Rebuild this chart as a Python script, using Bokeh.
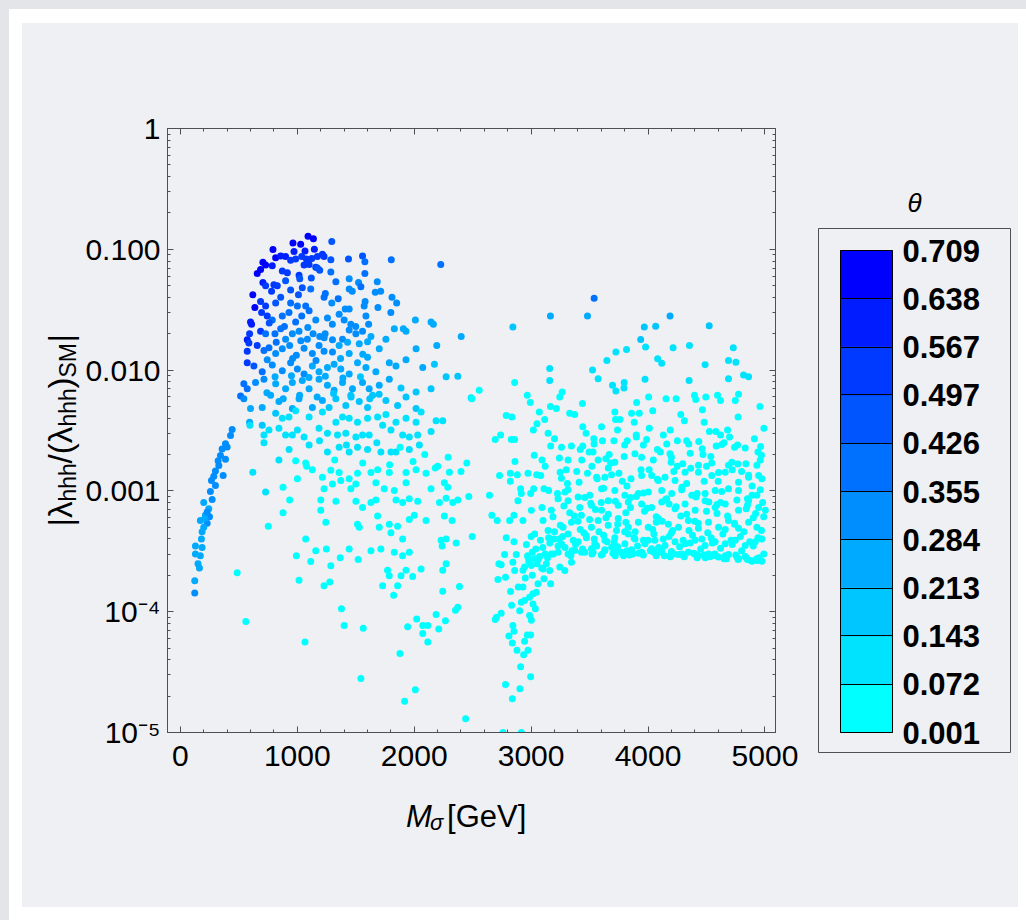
import math
from bokeh.plotting import figure
from bokeh.models import (ColumnDataSource, Range1d, FixedTicker, LinearAxis, LogAxis,
                          CustomJSTickFormatter, LinearColorMapper, ColorBar, Spacer)
from bokeh.core.properties import value
from bokeh.layouts import row, column
from bokeh.embed import file_html
from bokeh.resources import INLINE

# ---------------- data ----------------
# left arc  (M_sigma < 500 GeV)
arc_m = [443, 429, 386, 357, 343, 386, 329, 300, 366, 266, 300, 257, 272, 200, 243, 214, 171, 229,
         200, 186, 180, 129, 186, 129, 171, 151, 163, 123, 123, 229, 249, 209, 400, 323, 286]
arc_lam = [0.00323, 0.00288, 0.00246, 0.00222, 0.00196, 0.00183, 0.00162, 0.00146, 0.00134, 0.00122,
           0.00111, 0.00099, 0.00085, 0.00080, 0.00071, 0.00063, 0.00057, 0.00054, 0.00050, 0.00046,
           0.00040, 0.00035, 0.00034, 0.00030, 0.00029, 0.00025, 0.00023, 0.00018, 0.000143, 0.00067,
           0.00061, 0.00059, 0.00231, 0.00178, 0.00132]
arc_theta = [0.34, 0.33, 0.31, 0.30, 0.30, 0.31, 0.30, 0.30, 0.31, 0.29, 0.29, 0.29, 0.29, 0.28, 0.28,
             0.28, 0.28, 0.29, 0.28, 0.28, 0.27, 0.27, 0.28, 0.27, 0.28, 0.27, 0.28, 0.28, 0.29, 0.29,
             0.29, 0.28, 0.32, 0.30, 0.30]

# main left cluster (500 - 2500 GeV)
left_m = [
    1092, 1138, 963, 1029, 1295,
    792, 972, 1066, 1146, 1215,
    815, 858, 900, 943, 986, 1038, 1078, 1124, 1172, 1229, 1287, 1438, 1558, 1804,
    706, 729, 786, 1058, 1101, 1158, 1578, 2227,
    657, 686, 872, 915, 1015, 1021, 1172, 1192, 1287, 1578, 1444,
    706, 729, 800, 829, 943, 1043, 1115, 1330, 1444, 1524, 1544, 1684, 1667, 1713,
    620, 637, 686, 729, 815, 858, 943, 1001, 1072, 1229, 1295, 1410, 1444, 1572, 1810, 1850,
    600, 609, 695, 743, 786, 872, 929, 986, 1038, 1101, 1158, 1258, 1358, 1401, 1458, 1587, 1610, 2010, 2144, 2164,
    572, 592, 686, 729, 809, 858, 900, 958, 1015, 1086, 1135, 1192, 1238, 1301, 1387, 1444, 1501, 1558, 1601, 1758, 1830, 1907, 1930, 2402,
    572, 586, 657, 715, 758, 815, 872, 935, 992, 1058, 1129, 1186, 1229, 1301, 1358, 1444, 1530, 1601, 1701, 2016, 2193,
    572, 629, 700, 743, 786, 872, 943, 1001, 1058, 1129, 1186, 1258, 1315, 1372, 1444, 1515, 1587, 1672, 1787, 1844, 1930, 2073, 2173,
    543, 572, 643, 715, 815, 900, 958, 1043, 1101, 1186, 1258, 1315, 1387, 1472, 1558, 1615, 1701, 1787, 1887, 2016, 2144, 2273, 2373,
    515, 543, 600, 700, 772, 843, 958, 1015, 1129, 1215, 1272, 1330, 1415, 1458, 1530, 1601, 1644, 1758, 1858, 1930, 2016, 2487,
    592, 700, 815, 872, 929, 986, 1101, 1215, 1330, 1387, 1444, 1515, 1601, 1687, 1758, 1844, 1930, 2016, 2059, 2187, 2244,
    595, 715, 758, 843, 900, 958, 1001, 1058, 1186, 1258, 1344, 1415, 1501, 1558, 1615, 1730, 1801, 1901, 1958, 2030, 2144,
    715, 1101, 1258, 1358, 1444, 1515, 1601, 1715, 1801, 1844, 1958, 2044,
    620, 843, 986, 1072, 1129, 1215, 1287, 1358, 1444, 1515, 1630, 1687, 1787, 1930, 2016, 2101, 2201, 2301, 2450,
    729, 878, 1001, 1229, 1301, 1372, 1458, 1501, 1672, 1744, 1830, 1930, 2144, 2258, 2287,
    878, 935, 1201, 1330, 1501, 1558, 1630, 1672, 1844, 1901, 1958, 2030, 2216, 2273, 2330, 2373, 2467,
    752, 1201, 1244, 1515, 1687, 1787, 1858, 1958, 2001, 2101, 2258, 2324,
    1072, 1530, 1701, 1801, 1901, 2230, 2273, 2496,
    992, 1115, 1158, 1249, 1367, 1444, 1521, 1630, 1715, 1830, 1901, 1958, 2239, 2359,
    486, 1287, 1772, 1787, 1887, 1930, 1987, 2059, 2244, 2273,
    1015, 1229, 1278, 1730, 1824, 1858, 2244, 2387,
    1378, 1401, 1564, 560, 1944, 2021, 2073, 2116, 2187, 2267, 2353, 2373, 2210,
    1066, 2073, 2116, 1878, 1544, 2010, 1918, 2440,
    760, 820, 890, 960, 1030, 1090, 1160, 1230, 1300, 1370, 1430, 1500, 1560, 1630,
    740, 810, 880, 950, 1020, 1100, 1170, 1240, 1310, 1390, 1460, 1540, 1620, 1700,
    780, 900, 1010, 1120, 1240, 1350, 1470, 1580, 1690, 1800,
    930, 1080, 1190, 1320, 1420, 1560, 1680, 1790, 1880, 1990, 2090, 2180, 2290, 2400,
]
left_lam = [
    0.128, 0.122, 0.113, 0.110, 0.116,
    0.0995, 0.096, 0.097, 0.100, 0.091,
    0.085, 0.088, 0.087, 0.081, 0.083, 0.087, 0.083, 0.084, 0.087, 0.087, 0.082, 0.083, 0.088, 0.082,
    0.078, 0.074, 0.073, 0.074, 0.075, 0.071, 0.079, 0.075,
    0.063, 0.068, 0.066, 0.064, 0.061, 0.057, 0.070, 0.067, 0.065, 0.063, 0.057,
    0.053, 0.050, 0.051, 0.050, 0.046, 0.048, 0.047, 0.054, 0.047, 0.053, 0.049, 0.054, 0.044, 0.045,
    0.042, 0.033, 0.037, 0.034, 0.036, 0.040, 0.036, 0.034, 0.034, 0.040, 0.036, 0.032, 0.032, 0.034, 0.040, 0.036,
    0.025, 0.024, 0.030, 0.028, 0.026, 0.028, 0.030, 0.025, 0.028, 0.031, 0.026, 0.027, 0.029, 0.026, 0.024, 0.028, 0.024, 0.026, 0.025, 0.024,
    0.0178, 0.020, 0.021, 0.020, 0.020, 0.022, 0.018, 0.020, 0.021, 0.018, 0.020, 0.019, 0.020, 0.0178, 0.018, 0.0215, 0.020, 0.021, 0.0172, 0.018, 0.022, 0.022, 0.021, 0.019,
    0.0143, 0.0168, 0.0160, 0.0145, 0.0153, 0.0137, 0.0150, 0.0160, 0.0133, 0.0152, 0.0137, 0.0160, 0.0143, 0.0141, 0.0160, 0.0137, 0.0165, 0.0128, 0.0150, 0.0150, 0.0160,
    0.0115, 0.0108, 0.0097, 0.0122, 0.0110, 0.0099, 0.0115, 0.0102, 0.0093, 0.0108, 0.0097, 0.0105, 0.0112, 0.0102, 0.0093, 0.0115, 0.0105, 0.0097, 0.0115, 0.0108, 0.0122, 0.0105, 0.0112,
    0.0077, 0.0070, 0.0079, 0.0084, 0.0077, 0.0070, 0.0079, 0.0082, 0.0070, 0.0084, 0.0075, 0.0068, 0.0079, 0.0070, 0.0079, 0.0070, 0.0075, 0.0084, 0.0071, 0.0066, 0.0070, 0.0088, 0.0089,
    0.0061, 0.0058, 0.0048, 0.0049, 0.0062, 0.0055, 0.0048, 0.0058, 0.0049, 0.0056, 0.0049, 0.0058, 0.0051, 0.0062, 0.0055, 0.0049, 0.0062, 0.0056, 0.0051, 0.0060, 0.0048, 0.0059,
    0.0037, 0.0035, 0.0044, 0.0040, 0.0041, 0.0046, 0.0041, 0.0045, 0.0037, 0.0041, 0.0040, 0.0037, 0.0040, 0.0041, 0.0043, 0.0037, 0.0040, 0.0037, 0.0045, 0.0038, 0.0038,
    0.0035, 0.0029, 0.0032, 0.0033, 0.0029, 0.0029, 0.0032, 0.0028, 0.0033, 0.0030, 0.0029, 0.0030, 0.0028, 0.0029, 0.0029, 0.0035, 0.0032, 0.0029, 0.0028, 0.0029, 0.0031,
    0.0025, 0.0024, 0.0021, 0.0023, 0.0021, 0.0023, 0.0022, 0.0021, 0.0021, 0.0021, 0.0022, 0.0024,
    0.00143, 0.0018, 0.00178, 0.0017, 0.0015, 0.0013, 0.00148, 0.00142, 0.00126, 0.0014, 0.00142, 0.0015, 0.00142, 0.00142, 0.0015, 0.0014, 0.0016, 0.00143, 0.0017,
    0.00098, 0.00107, 0.00126, 0.00104, 0.00114, 0.00122, 0.00104, 0.00114, 0.00117, 0.00104, 0.00101, 0.00117, 0.00104, 0.00117, 0.00107,
    0.00066, 0.00084, 0.00084, 0.00082, 0.00082, 0.00073, 0.00080, 0.00084, 0.00084, 0.00080, 0.00086, 0.00082, 0.00080, 0.00087, 0.00080, 0.00084, 0.00090,
    0.00051, 0.00069, 0.00055, 0.00053, 0.00062, 0.00053, 0.00051, 0.00058, 0.00063, 0.00057, 0.00062, 0.00057,
    0.00040, 0.00050, 0.00050, 0.00045, 0.00040, 0.00039, 0.00040, 0.00042,
    0.00029, 0.00026, 0.00032, 0.00033, 0.00028, 0.00033, 0.00027, 0.00032, 0.00033, 0.00031, 0.00029, 0.00031, 0.00035, 0.00037,
    0.00021, 0.00024, 0.00022, 0.000198, 0.000198, 0.00022, 0.000196, 0.000226, 0.00022, 0.00025,
    0.000182, 0.000164, 0.000176, 0.000164, 0.000137, 0.000164, 0.000148, 0.000162,
    0.000106, 0.000077, 0.000073, 0.000083, 0.000075, 0.000087, 0.000077, 0.000077, 0.000095, 0.000084, 0.000103, 0.000109, 0.000072,
    0.000056, 0.000066, 0.000056, 0.000045, 0.000028, 0.0000226, 0.0000181, 0.000013,
    0.0245, 0.0170, 0.0230, 0.0125, 0.0175, 0.0225, 0.0120, 0.0185, 0.0240, 0.0125, 0.0170, 0.0230, 0.0135, 0.0190,
    0.0065, 0.0088, 0.0058, 0.0090, 0.0062, 0.0087, 0.0060, 0.0089, 0.0064, 0.0086, 0.0060, 0.0088, 0.0058, 0.0063,
    0.045, 0.055, 0.042, 0.058, 0.043, 0.039, 0.045, 0.037, 0.033, 0.030,
    0.0022, 0.0016, 0.0026, 0.0018, 0.0024, 0.0017, 0.0025, 0.00165, 0.0023, 0.00175, 0.0020, 0.00155, 0.0019, 0.00145,
]
left_theta = [
    0.68, 0.70, 0.66, 0.64, 0.45,
    0.66, 0.62, 0.62, 0.60, 0.55,
    0.64, 0.62, 0.58, 0.56, 0.56, 0.55, 0.54, 0.52, 0.52, 0.50, 0.45, 0.44, 0.44, 0.42,
    0.70, 0.68, 0.62, 0.52, 0.50, 0.50, 0.42, 0.40,
    0.70, 0.68, 0.55, 0.52, 0.50, 0.48, 0.48, 0.47, 0.42, 0.40, 0.32,
    0.58, 0.56, 0.52, 0.50, 0.45, 0.44, 0.42, 0.40, 0.33, 0.33, 0.36, 0.32, 0.30, 0.30,
    0.68, 0.64, 0.55, 0.52, 0.45, 0.44, 0.42, 0.40, 0.40, 0.38, 0.34, 0.32, 0.32, 0.31, 0.30, 0.30,
    0.62, 0.60, 0.52, 0.50, 0.42, 0.40, 0.40, 0.38, 0.38, 0.38, 0.34, 0.33, 0.32, 0.31, 0.30, 0.30, 0.29, 0.24, 0.24, 0.24,
    0.60, 0.55, 0.50, 0.42, 0.40, 0.38, 0.34, 0.33, 0.33, 0.32, 0.32, 0.31, 0.31, 0.30, 0.30, 0.30, 0.29, 0.29, 0.28, 0.25, 0.25, 0.24, 0.24, 0.22,
    0.56, 0.55, 0.50, 0.42, 0.40, 0.34, 0.33, 0.32, 0.31, 0.31, 0.30, 0.30, 0.29, 0.29, 0.28, 0.27, 0.27, 0.26, 0.25, 0.23, 0.22,
    0.52, 0.44, 0.36, 0.35, 0.33, 0.31, 0.30, 0.30, 0.29, 0.28, 0.27, 0.27, 0.26, 0.26, 0.25, 0.25, 0.24, 0.24, 0.23, 0.23, 0.22, 0.22, 0.21,
    0.42, 0.40, 0.34, 0.32, 0.28, 0.27, 0.27, 0.26, 0.26, 0.25, 0.25, 0.24, 0.24, 0.23, 0.23, 0.23, 0.22, 0.22, 0.21, 0.21, 0.20, 0.20, 0.20,
    0.40, 0.35, 0.28, 0.26, 0.25, 0.24, 0.23, 0.23, 0.22, 0.22, 0.21, 0.21, 0.20, 0.20, 0.20, 0.19, 0.19, 0.18, 0.18, 0.17, 0.17, 0.12,
    0.22, 0.15, 0.15, 0.14, 0.14, 0.14, 0.13, 0.13, 0.12, 0.12, 0.12, 0.11, 0.11, 0.11, 0.11, 0.10, 0.10, 0.10, 0.10, 0.10, 0.10,
    0.14, 0.13, 0.13, 0.13, 0.12, 0.12, 0.12, 0.12, 0.11, 0.11, 0.11, 0.11, 0.10, 0.10, 0.10, 0.10, 0.10, 0.09, 0.09, 0.09, 0.09,
    0.11, 0.10, 0.10, 0.10, 0.09, 0.09, 0.09, 0.09, 0.08, 0.08, 0.08, 0.08,
    0.10, 0.09, 0.07, 0.07, 0.06, 0.06, 0.06, 0.06, 0.05, 0.05, 0.05, 0.05, 0.05, 0.05, 0.05, 0.05, 0.05, 0.05, 0.05,
    0.08, 0.06, 0.06, 0.05, 0.05, 0.05, 0.04, 0.04, 0.04, 0.04, 0.04, 0.04, 0.04, 0.04, 0.04,
    0.05, 0.05, 0.04, 0.04, 0.04, 0.04, 0.04, 0.04, 0.03, 0.03, 0.03, 0.03, 0.03, 0.03, 0.03, 0.03, 0.03,
    0.05, 0.04, 0.04, 0.03, 0.03, 0.03, 0.03, 0.03, 0.03, 0.03, 0.03, 0.03,
    0.04, 0.03, 0.03, 0.03, 0.03, 0.03, 0.03, 0.03,
    0.04, 0.04, 0.04, 0.03, 0.03, 0.03, 0.03, 0.03, 0.03, 0.03, 0.03, 0.03, 0.02, 0.02,
    0.05, 0.03, 0.03, 0.03, 0.03, 0.03, 0.03, 0.03, 0.02, 0.02,
    0.04, 0.03, 0.03, 0.03, 0.03, 0.03, 0.02, 0.02,
    0.03, 0.03, 0.03, 0.05, 0.03, 0.03, 0.03, 0.02, 0.02, 0.02, 0.02, 0.02, 0.02,
    0.04, 0.03, 0.03, 0.03, 0.03, 0.03, 0.03, 0.03,
    0.45, 0.36, 0.38, 0.31, 0.33, 0.34, 0.29, 0.30, 0.31, 0.27, 0.28, 0.29, 0.26, 0.27,
    0.26, 0.27, 0.24, 0.25, 0.23, 0.24, 0.22, 0.23, 0.21, 0.22, 0.20, 0.21, 0.19, 0.19,
    0.52, 0.48, 0.45, 0.45, 0.40, 0.37, 0.35, 0.33, 0.31, 0.30,
    0.09, 0.07, 0.09, 0.07, 0.08, 0.06, 0.08, 0.06, 0.07, 0.06, 0.06, 0.05, 0.05, 0.05,
]

# right cluster (2500 - 5000 GeV)
right_m = [
    3539, 3165, 3482, 4188, 2844, 3968, 4065, 4523, 3937, 3979, 4214, 4354, 4729, 3816, 3725, 3648, 4082, 4117, 4488, 4688, 4751, 3159, 3525, 2859, 3159, 3573, 3974, 4351, 4688, 4817, 4860, 2556, 2493,
    2967, 2993, 3245, 3265, 3439, 3696, 3725, 3794, 3796, 3902, 4005, 4154, 4240, 4397, 4408, 4494, 4594, 4620, 4746, 4774, 4957, 3165, 3216,
    2787, 2836, 3070, 3116, 3373, 3716, 3722, 3859, 3882, 3925, 3602, 3442, 4280, 4311, 4465, 3019, 3145, 3739, 3899, 4011, 4525, 4580, 4680, 4991,
    2693, 2739, 2830, 2859, 3167, 3345, 3442, 3536, 3539, 3708, 3822, 3988, 4131, 4160, 4251, 4348, 4434, 4463, 4583, 4631, 4697, 4766, 4831, 4963, 2862, 3027, 3093,
    3242, 3316, 3433, 3496, 3573, 3639, 3668, 3716, 3796, 3888, 3945, 4045, 4105, 4188, 4197, 4297, 4365, 4431, 4537, 4545, 4603, 4688, 4717, 4768, 4837, 4931, 4969,
    2730, 2822, 2822, 2882, 2973, 3047, 3082, 3248, 3259, 3410, 3482, 3565, 3631, 3688, 3751, 3854, 3945, 4031, 4088, 4145, 4231, 4317, 4431, 4545, 4660, 4774, 4860, 4946, 4974,
    2644, 2910, 2916, 2996, 3022, 3110, 3150, 3225, 3316, 3402, 3502, 3602, 3716, 3802, 3917, 4002, 4117, 4202, 4288, 4374, 4488, 4574, 4688, 4774, 4889, 4931,
    2887, 3002, 3093, 3173, 3230, 3316, 3416, 3516, 3602, 3659, 3745, 3831, 3945, 4031, 4117, 4231, 4317, 4403, 4488, 4574, 4660, 4774, 4860, 4946, 5003,
    2664, 2710, 2816, 2853, 2930, 3102, 3187, 3273, 3345, 3430, 3516, 3573, 3659, 3745, 3831, 3917, 4002, 4088, 4174, 4260, 4345, 4431, 4517, 4603, 4688, 4774, 4860, 4931, 4989,
    2787, 2853, 3030, 3145, 3196, 3259, 3316, 3402, 3473, 3545, 3631, 3716, 3802, 3888, 3974, 4059, 4145, 4231, 4317, 4403, 4488, 4574, 4660, 4746, 4831, 4917, 4974,
    2773, 2873, 2973, 3073, 3173, 3230, 3316, 3373, 3459, 3516, 3631, 3688, 3774, 3859, 3945, 4031, 4117, 4202, 4260, 4345, 4431, 4517, 4603, 4688, 4774, 4831, 4889, 4931, 4974,
    2724, 2744, 2844, 2859, 2944, 3002, 3030, 3102, 3130, 3159, 3245, 3288, 3345,
    2716, 2781, 2824, 2930, 3016, 3059, 3110, 3167, 2987, 3045,
    2693, 2744, 2704, 2833, 2902, 2916, 2944, 3016, 3036, 2987, 3002, 2810, 2844, 2853,
    2839, 2944, 2967, 2996, 2879, 2936, 2973, 2910, 2996, 2781, 2904, 2839, 2759, 2916,
    3290, 3340, 3380, 3430, 3470, 3520, 3560, 3600, 3650, 3700, 3740, 3790, 3830, 3870, 3910, 3960, 4000, 4050, 4090, 4140, 4180, 4220, 4270, 4310, 4360, 4400, 4450, 4490, 4540, 4580, 4620, 4670, 4720, 4760, 4800, 4850, 4900, 4950, 4990,
    3250, 3330, 3420, 3500, 3580, 3660, 3730, 3810, 3890, 3970, 4040, 4120, 4200, 4280, 4350, 4430, 4510, 4590, 4660, 4740, 4820, 4900, 4970,
    2960, 3000, 3040, 3080, 3120, 3160, 3200, 3230, 2980, 3060, 3140, 3010, 3090, 2950,
    3300, 3520, 3780, 4010, 4250, 4480, 4720, 4890, 3600, 3850, 4150, 4420, 4620, 4850,
    3270, 3360, 3450, 3540, 3620, 3710, 3800, 3880, 3960, 4050, 4130, 4210, 4300, 4380, 4460, 4550, 4640, 4710, 4790, 4870, 4940,
    3280, 3370, 3460, 3550, 3640, 3720, 3810, 3900, 3990, 4070, 4160, 4240, 4330, 4410, 4500, 4590, 4680, 4760, 4840, 4920, 4980,
    3310, 3420, 3560, 3680, 3820, 3960, 4080, 4200, 4330, 4470, 4600, 4740, 4860, 4960,
    3610, 3720, 3840, 3950, 4070, 4190, 4300, 4420, 4530, 4650, 4770, 4880,
    2890, 2930, 2970, 3010, 3050, 3100, 3150, 3190, 3240,
    3050, 3200, 3330, 3470, 3610, 3760, 3900, 4040, 4190, 4330, 4480, 4620, 4770, 4910,
    3120, 3260, 3390, 3530, 3660, 3800, 3940, 4080, 4220, 4360, 4500, 4650, 4800, 4940,
    3350, 3440, 3530, 3630, 3730, 3820, 3920, 4020, 4110, 4200, 4290, 4390, 4480, 4570, 4660, 4750, 4840, 4930,
    3290, 3400, 3510, 3620, 3740, 3850, 3960, 4070, 4180, 4290, 4400, 4520, 4630, 4740, 4850, 4960,
]
right_lam = [
    0.0394, 0.028, 0.028, 0.028, 0.0227, 0.0227, 0.0231, 0.0233, 0.0179, 0.0155, 0.0153, 0.0160, 0.0153, 0.0148, 0.0141, 0.0120, 0.0124, 0.0114, 0.0111, 0.0120, 0.0116, 0.0103, 0.0100, 0.0079, 0.0082, 0.0085, 0.0084, 0.0082, 0.0085, 0.0091, 0.0088, 0.0068, 0.0058,
    0.0062, 0.0054, 0.0060, 0.0066, 0.0053, 0.0075, 0.0067, 0.0071, 0.0079, 0.0054, 0.0060, 0.0058, 0.0058, 0.0062, 0.0057, 0.0060, 0.0062, 0.0056, 0.0056, 0.0063, 0.0050, 0.0050, 0.0048,
    0.0042, 0.0041, 0.0045, 0.0039, 0.0043, 0.0045, 0.0039, 0.0044, 0.0037, 0.0044, 0.0034, 0.0034, 0.0043, 0.0038, 0.0047, 0.0032, 0.0030, 0.0032, 0.0029, 0.0033, 0.0031, 0.0031, 0.0032, 0.0033,
    0.00267, 0.0029, 0.00267, 0.00267, 0.00235, 0.00235, 0.00235, 0.0027, 0.00244, 0.0026, 0.0026, 0.00267, 0.0029, 0.00244, 0.0026, 0.00244, 0.00256, 0.00223, 0.00235, 0.00242, 0.0028, 0.0024, 0.00226, 0.00233, 0.00175, 0.00197, 0.0018,
    0.00187, 0.0018, 0.0018, 0.0021, 0.0018, 0.00185, 0.0020, 0.00173, 0.00193, 0.00203, 0.0019, 0.0018, 0.0021, 0.00203, 0.00173, 0.00168, 0.00154, 0.00163, 0.00193, 0.0017, 0.00142, 0.00163, 0.00173, 0.00167, 0.00168, 0.00163, 0.00197,
    0.00134, 0.0014, 0.0012, 0.00136, 0.0014, 0.00136, 0.00134, 0.00143, 0.00127, 0.00118, 0.0014, 0.00126, 0.0013, 0.00136, 0.0014, 0.00126, 0.00134, 0.00134, 0.00122, 0.0013, 0.00122, 0.00143, 0.00143, 0.00134, 0.00143, 0.00118, 0.0013, 0.00134, 0.00126,
    0.00092, 0.00104, 0.00095, 0.00095, 0.00104, 0.00104, 0.00101, 0.00095, 0.00102, 0.00089, 0.00092, 0.00104, 0.00101, 0.00092, 0.00095, 0.00098, 0.00101, 0.00095, 0.00102, 0.00092, 0.00095, 0.00101, 0.00104, 0.00101, 0.00092, 0.00092,
    0.00083, 0.00069, 0.00073, 0.00069, 0.00086, 0.00083, 0.00073, 0.00076, 0.00069, 0.00083, 0.00076, 0.00081, 0.00078, 0.00073, 0.00081, 0.00071, 0.00078, 0.00069, 0.00083, 0.00073, 0.00078, 0.00069, 0.00083, 0.00073, 0.00069,
    0.00063, 0.00057, 0.00057, 0.00063, 0.00057, 0.00057, 0.00061, 0.00050, 0.00055, 0.00063, 0.00050, 0.00057, 0.00052, 0.00059, 0.00050, 0.00055, 0.00050, 0.00059, 0.00053, 0.00050, 0.00057, 0.00049, 0.00055, 0.00050, 0.00057, 0.00049, 0.00055, 0.00050, 0.00061,
    0.00041, 0.00038, 0.00044, 0.00047, 0.00040, 0.000365, 0.00044, 0.00038, 0.00041, 0.000365, 0.00039, 0.00041, 0.000365, 0.00040, 0.000365, 0.00039, 0.000353, 0.00038, 0.000365, 0.00039, 0.000353, 0.00038, 0.000365, 0.00039, 0.000353, 0.00038, 0.00040,
    0.000297, 0.000297, 0.000283, 0.000286, 0.000301, 0.000311, 0.000301, 0.000321, 0.000311, 0.000332, 0.000321, 0.000342, 0.000311, 0.000325, 0.000311, 0.000332, 0.000317, 0.000305, 0.000297, 0.000311, 0.000292, 0.000301, 0.000283, 0.000297, 0.000274, 0.000286, 0.000262, 0.000265, 0.000262,
    0.000249, 0.000245, 0.000257, 0.000219, 0.000234, 0.000241, 0.000274, 0.000226, 0.000249, 0.000219, 0.000234, 0.000219, 0.000257,
    0.000185, 0.000193, 0.000147, 0.000160, 0.000141, 0.000170, 0.000187, 0.000170, 0.000132, 0.000145,
    8.6e-5, 9.7e-5, 9.0e-5, 1.13e-4, 1.02e-4, 1.20e-4, 1.24e-4, 1.16e-4, 1.06e-4, 9.3e-5, 8.5e-5, 6.3e-5, 7.7e-5, 6.9e-5,
    5.5e-5, 5.7e-5, 6.4e-5, 6.4e-5, 4.8e-5, 4.4e-5, 4.8e-5, 3.5e-5, 2.9e-5, 2.5e-5, 2.3e-5, 1.9e-5, 1.0e-5, 1.0e-5,
    3.4e-4, 2.9e-4, 3.6e-4, 3.1e-4, 4.3e-4, 3.0e-4, 3.5e-4, 2.95e-4, 3.8e-4, 3.05e-4, 3.45e-4, 2.9e-4, 4.4e-4, 3.0e-4, 3.5e-4, 2.95e-4, 3.9e-4, 3.1e-4, 3.4e-4, 2.9e-4, 4.2e-4, 3.0e-4, 3.45e-4, 2.85e-4, 3.7e-4, 3.0e-4, 3.3e-4, 2.8e-4, 4.1e-4, 2.9e-4, 3.35e-4, 2.75e-4, 3.6e-4, 2.85e-4, 3.2e-4, 2.7e-4, 3.5e-4, 2.8e-4, 3.0e-4,
    5.2e-4, 6.6e-4, 4.8e-4, 5.8e-4, 4.6e-4, 6.4e-4, 4.7e-4, 5.5e-4, 4.6e-4, 6.8e-4, 4.8e-4, 5.6e-4, 4.5e-4, 6.2e-4, 4.7e-4, 5.4e-4, 4.5e-4, 6.5e-4, 4.8e-4, 5.3e-4, 4.6e-4, 6.0e-4, 4.7e-4,
    3.6e-4, 4.2e-4, 3.3e-4, 3.9e-4, 3.0e-4, 3.7e-4, 4.6e-4, 3.5e-4, 2.6e-4, 2.7e-4, 2.8e-4, 2.0e-4, 2.3e-4, 1.9e-4,
    1.5e-3, 1.6e-3, 1.2e-3, 1.5e-3, 1.6e-3, 1.2e-3, 1.5e-3, 1.1e-3, 8.0e-4, 8.8e-4, 8.5e-4, 9.5e-4, 8.0e-4, 8.6e-4,
    4.2e-4, 3.9e-4, 4.5e-4, 4.0e-4, 4.3e-4, 3.8e-4, 4.6e-4, 4.1e-4, 3.9e-4, 4.4e-4, 4.0e-4, 4.7e-4, 3.9e-4, 4.3e-4, 4.0e-4, 3.7e-4, 4.4e-4, 3.9e-4, 4.2e-4, 3.8e-4, 4.1e-4,
    7.5e-4, 6.2e-4, 8.8e-4, 7.0e-4, 6.0e-4, 8.2e-4, 6.6e-4, 9.0e-4, 7.2e-4, 6.1e-4, 8.6e-4, 7.4e-4, 6.4e-4, 8.9e-4, 6.8e-4, 7.7e-4, 6.2e-4, 8.4e-4, 7.1e-4, 6.5e-4, 8.0e-4,
    1.15e-3, 2.2e-3, 1.3e-3, 1.7e-3, 1.1e-3, 2.4e-3, 1.25e-3, 1.9e-3, 1.15e-3, 2.0e-3, 1.2e-3, 2.3e-3, 1.35e-3, 1.8e-3,
    3.0e-4, 2.9e-4, 2.95e-4, 3.05e-4, 2.9e-4, 2.85e-4, 2.95e-4, 2.8e-4, 2.85e-4, 2.75e-4, 2.7e-4, 2.65e-4,
    1.6e-4, 2.2e-4, 2.9e-4, 3.1e-4, 2.5e-4, 3.4e-4, 4.1e-4, 3.0e-4, 4.0e-4,
    3.6e-3, 2.7e-3, 4.4e-3, 3.0e-3, 2.6e-3, 3.9e-3, 2.8e-3, 4.6e-3, 3.2e-3, 2.6e-3, 3.7e-3, 2.9e-3, 4.1e-3, 2.7e-3,
    1.6e-3, 2.3e-3, 1.45e-3, 2.1e-3, 1.55e-3, 2.4e-3, 1.5e-3, 2.2e-3, 1.45e-3, 2.05e-3, 1.6e-3, 2.5e-3, 1.45e-3, 2.1e-3,
    3.2e-4, 3.3e-4, 3.1e-4, 3.25e-4, 3.15e-4, 3.2e-4, 3.05e-4, 3.2e-4, 3.1e-4, 3.15e-4, 3.0e-4, 3.05e-4, 2.95e-4, 3.0e-4, 2.9e-4, 2.95e-4, 2.8e-4, 2.75e-4,
    9.8e-4, 5.6e-4, 7.9e-4, 1.05e-3, 5.3e-4, 7.3e-4, 9.6e-4, 5.5e-4, 7.8e-4, 1.07e-3, 5.6e-4, 8.1e-4, 9.9e-4, 5.4e-4, 7.6e-4, 1.02e-3,
]
right_theta = [
    0.38, 0.22, 0.22, 0.24, 0.20, 0.20, 0.20, 0.20, 0.15, 0.14, 0.14, 0.14, 0.14, 0.13, 0.13, 0.12, 0.12, 0.12, 0.12, 0.12, 0.12, 0.11, 0.11, 0.07, 0.09, 0.09, 0.09, 0.09, 0.09, 0.09, 0.09, 0.07, 0.07,
    0.07, 0.07, 0.07, 0.07, 0.07, 0.08, 0.08, 0.08, 0.08, 0.07, 0.07, 0.07, 0.07, 0.07, 0.07, 0.07, 0.07, 0.07, 0.07, 0.07, 0.06, 0.06, 0.06,
    0.05, 0.05, 0.05, 0.05, 0.05, 0.05, 0.05, 0.05, 0.05, 0.05, 0.05, 0.05, 0.05, 0.05, 0.05, 0.05, 0.05, 0.05, 0.05, 0.05, 0.05, 0.05, 0.05, 0.05,
    0.05, 0.05, 0.05, 0.05, 0.05, 0.05, 0.05, 0.05, 0.05, 0.05, 0.05, 0.05, 0.05, 0.05, 0.05, 0.05, 0.05, 0.04, 0.04, 0.04, 0.05, 0.04, 0.04, 0.04, 0.04, 0.04, 0.04,
    0.04, 0.04, 0.04, 0.04, 0.04, 0.04, 0.04, 0.04, 0.04, 0.04, 0.04, 0.04, 0.04, 0.04, 0.04, 0.04, 0.04, 0.04, 0.04, 0.04, 0.04, 0.04, 0.04, 0.04, 0.04, 0.04, 0.04,
    0.04, 0.04, 0.04, 0.04, 0.04, 0.04, 0.04, 0.04, 0.04, 0.04, 0.04, 0.04, 0.04, 0.04, 0.04, 0.04, 0.04, 0.04, 0.04, 0.04, 0.04, 0.04, 0.04, 0.04, 0.04, 0.04, 0.04, 0.04, 0.04,
    0.04, 0.04, 0.04, 0.04, 0.04, 0.04, 0.04, 0.04, 0.04, 0.03, 0.03, 0.03, 0.03, 0.03, 0.03, 0.03, 0.03, 0.03, 0.03, 0.03, 0.03, 0.03, 0.03, 0.03, 0.03, 0.03,
    0.04, 0.04, 0.04, 0.04, 0.03, 0.03, 0.03, 0.03, 0.03, 0.03, 0.03, 0.03, 0.03, 0.03, 0.03, 0.03, 0.03, 0.03, 0.03, 0.03, 0.03, 0.03, 0.03, 0.03, 0.03,
    0.04, 0.04, 0.04, 0.04, 0.04, 0.03, 0.03, 0.03, 0.03, 0.03, 0.03, 0.03, 0.03, 0.03, 0.03, 0.03, 0.03, 0.03, 0.03, 0.03, 0.03, 0.03, 0.03, 0.03, 0.03, 0.03, 0.03, 0.03, 0.03,
    0.04, 0.04, 0.03, 0.03, 0.03, 0.03, 0.03, 0.03, 0.03, 0.03, 0.03, 0.03, 0.03, 0.03, 0.03, 0.03, 0.03, 0.03, 0.03, 0.03, 0.03, 0.03, 0.03, 0.03, 0.03, 0.03, 0.03,
    0.04, 0.04, 0.04, 0.03, 0.03, 0.03, 0.03, 0.03, 0.03, 0.03, 0.03, 0.03, 0.03, 0.03, 0.03, 0.03, 0.03, 0.03, 0.03, 0.03, 0.03, 0.03, 0.03, 0.03, 0.03, 0.03, 0.03, 0.03, 0.03,
    0.04, 0.04, 0.04, 0.04, 0.04, 0.04, 0.04, 0.04, 0.04, 0.04, 0.03, 0.03, 0.03,
    0.04, 0.04, 0.04, 0.04, 0.04, 0.04, 0.04, 0.04, 0.04, 0.04,
    0.04, 0.04, 0.04, 0.04, 0.04, 0.04, 0.04, 0.04, 0.04, 0.04, 0.04, 0.04, 0.04, 0.04,
    0.04, 0.04, 0.04, 0.04, 0.04, 0.04, 0.04, 0.04, 0.04, 0.04, 0.04, 0.04, 0.04, 0.04,
    0.03, 0.03, 0.03, 0.03, 0.03, 0.03, 0.03, 0.03, 0.03, 0.03, 0.03, 0.03, 0.03, 0.03, 0.03, 0.03, 0.03, 0.03, 0.03, 0.03, 0.03, 0.03, 0.03, 0.03, 0.03, 0.03, 0.03, 0.03, 0.03, 0.03, 0.03, 0.03, 0.03, 0.03, 0.03, 0.03, 0.03, 0.03, 0.03,
    0.03, 0.03, 0.03, 0.03, 0.03, 0.03, 0.03, 0.03, 0.03, 0.03, 0.03, 0.03, 0.03, 0.03, 0.03, 0.03, 0.03, 0.03, 0.03, 0.03, 0.03, 0.03, 0.03,
    0.04, 0.04, 0.04, 0.04, 0.04, 0.04, 0.04, 0.04, 0.04, 0.04, 0.04, 0.04, 0.04, 0.04,
    0.04, 0.04, 0.04, 0.04, 0.04, 0.04, 0.04, 0.04, 0.04, 0.04, 0.04, 0.04, 0.04, 0.04,
    0.03, 0.03, 0.03, 0.03, 0.03, 0.03, 0.03, 0.03, 0.03, 0.03, 0.03, 0.03, 0.03, 0.03, 0.03, 0.03, 0.03, 0.03, 0.03, 0.03, 0.03,
    0.03, 0.03, 0.03, 0.03, 0.03, 0.03, 0.03, 0.03, 0.03, 0.03, 0.03, 0.03, 0.03, 0.03, 0.03, 0.03, 0.03, 0.03, 0.03, 0.03, 0.03,
    0.04, 0.04, 0.04, 0.04, 0.04, 0.04, 0.04, 0.04, 0.04, 0.04, 0.04, 0.04, 0.04, 0.04,
    0.03, 0.03, 0.03, 0.03, 0.03, 0.03, 0.03, 0.03, 0.03, 0.03, 0.03, 0.03,
    0.04, 0.04, 0.04, 0.04, 0.04, 0.04, 0.04, 0.04, 0.04,
    0.05, 0.05, 0.05, 0.05, 0.05, 0.05, 0.05, 0.05, 0.05, 0.05, 0.05, 0.05, 0.05, 0.05,
    0.04, 0.04, 0.04, 0.04, 0.04, 0.04, 0.04, 0.04, 0.04, 0.04, 0.04, 0.04, 0.04, 0.04,
    0.03, 0.03, 0.03, 0.03, 0.03, 0.03, 0.03, 0.03, 0.03, 0.03, 0.03, 0.03, 0.03, 0.03, 0.03, 0.03, 0.03, 0.03,
    0.03, 0.03, 0.03, 0.03, 0.03, 0.03, 0.03, 0.03, 0.03, 0.03, 0.03, 0.03, 0.03, 0.03, 0.03, 0.03,
]

# axes / legend texts
x_tick_values = [0, 1000, 2000, 3000, 4000, 5000]
x_tick_labels = ["0", "1000", "2000", "3000", "4000", "5000"]
y_tick_values = [1e-5, 1e-4, 1e-3, 1e-2, 1e-1, 1.0]
y_tick_labels = ["10\u207b\u2075", "10\u207b\u2074", "0.001", "0.010", "0.100", "1"]
x_title_parts = ["M", "\u03c3", "[GeV]"]
y_title_parts = ["|\u03bb", "hhh", "/(\u03bb", "hhh", ")", "SM", "|"]
theta_title = "\u03b8"
theta_ticks = [0.001, 0.072, 0.143, 0.213, 0.284, 0.355, 0.426, 0.497, 0.567, 0.638, 0.709]
theta_labels = ["0.001", "0.072", "0.143", "0.213", "0.284", "0.355", "0.426", "0.497", "0.567", "0.638", "0.709"]
theta_palette = ["#00ffff", "#00e3ff", "#00c6ff", "#00aaff", "#008eff",
                 "#0071ff", "#0055ff", "#0039ff", "#001cff", "#0000ff"]

# ---------------- build ----------------
for a, b, c in ((arc_m, arc_lam, arc_theta), (left_m, left_lam, left_theta), (right_m, right_lam, right_theta)):
    assert len(a) == len(b) == len(c), (len(a), len(b), len(c))

src = ColumnDataSource(dict(m=arc_m + left_m + right_m,
                            lam=arc_lam + left_lam + right_lam,
                            theta=arc_theta + left_theta + right_theta))

PANEL = "#eef0f4"
OUTER = "#e4e5e8"
FRAME = "#505050"
FONT = "Liberation Sans"

mapper = LinearColorMapper(palette=theta_palette, low=theta_ticks[0], high=theta_ticks[-1])

p = figure(width=728, height=767, x_range=Range1d(-110, 5090), y_range=Range1d(1e-5, 1),
           y_axis_type="log", output_backend="svg", toolbar_location=None,
           min_border_left=85, min_border_right=35, min_border_top=105, min_border_bottom=58,
           background_fill_color=PANEL, border_fill_color=PANEL,
           outline_line_color=FRAME, outline_line_width=1)
p.grid.visible = False

x_minor = [v for v in range(0, 5001, 200)]
y_minor = [k * d for d in (1e-5, 1e-4, 1e-3, 1e-2, 1e-1) for k in range(2, 10)]


def style_axis(ax, labels=True):
    ax.axis_line_color = FRAME
    ax.major_tick_line_color = FRAME
    ax.minor_tick_line_color = FRAME
    ax.major_tick_in = 6
    ax.major_tick_out = 0
    ax.minor_tick_in = 3
    ax.minor_tick_out = 0
    ax.major_label_text_font = FONT
    ax.major_label_text_font_size = "30px"
    ax.major_label_text_color = "black"
    if not labels:
        ax.formatter = CustomJSTickFormatter(code="return ''")
        ax.major_label_standoff = 0


xb = p.xaxis[0]
xb.ticker = FixedTicker(ticks=x_tick_values, minor_ticks=x_minor)
xb.major_label_overrides = dict(zip(x_tick_values, x_tick_labels))
style_axis(xb)
xb.major_label_standoff = 13

yl = p.yaxis[0]
yl.ticker = FixedTicker(ticks=y_tick_values, minor_ticks=y_minor)
yl.major_label_overrides = dict(zip(y_tick_values, y_tick_labels))
style_axis(yl)
yl.major_label_standoff = 7

xt = LinearAxis(ticker=FixedTicker(ticks=x_tick_values, minor_ticks=x_minor))
style_axis(xt, labels=False)
p.add_layout(xt, "above")
yr = LogAxis(ticker=FixedTicker(ticks=y_tick_values, minor_ticks=y_minor))
style_axis(yr, labels=False)
p.add_layout(yr, "right")

p.scatter("m", "lam", source=src, size=7, marker="circle",
          fill_color={"field": "theta", "transform": mapper}, line_color=None)

# x-axis title strip  (M_sigma [GeV]) – same horizontal scale as the plot
pl = figure(width=728, height=117, x_range=p.x_range, y_range=Range1d(0, 117),
            x_axis_type=None, y_axis_type=None, output_backend="svg", toolbar_location=None,
            min_border_left=85, min_border_right=35, min_border_top=0, min_border_bottom=0,
            background_fill_color=PANEL, border_fill_color=PANEL, outline_line_color=None)
pl.grid.visible = False
for txt, xx, yy, size, style in ((x_title_parts[0], 1930, 91, "31px", "italic"),
                                 (x_title_parts[1], 2135, 85, "22px", "italic"),
                                 (x_title_parts[2], 2281, 91, "31px", "normal")):
    pl.text(x=[xx], y=[yy], text=[txt], text_font=value(FONT), text_font_size=value(size),
            text_font_style=value(style), text_color="black", text_align="left",
            text_baseline="alphabetic")

# y-axis title strip  |lambda_hhh/(lambda_hhh)_SM|, rotated, in pixel units of the strip
py = figure(width=60, height=884, x_range=Range1d(0, 60), y_range=Range1d(0, 884),
            x_axis_type=None, y_axis_type=None, output_backend="svg", toolbar_location=None,
            min_border_left=0, min_border_right=0, min_border_top=0, min_border_bottom=0,
            background_fill_color=PANEL, border_fill_color=PANEL, outline_line_color=None)
py.grid.visible = False
for txt, yy, xx, size in ((y_title_parts[0], 381, 38, "33px"),
                          (y_title_parts[1], 406, 45, "23px"),
                          (y_title_parts[2], 444, 38, "33px"),
                          (y_title_parts[3], 481, 45, "23px"),
                          (y_title_parts[4], 519, 38, "33px"),
                          (y_title_parts[5], 530, 45, "23px"),
                          (y_title_parts[6], 565, 38, "33px")):
    py.text(x=[xx], y=[yy], text=[txt], angle=math.pi / 2, text_font=value(FONT),
            text_font_size=value(size), text_color="black", text_align="left",
            text_baseline="alphabetic")

# colour legend panel
pc = figure(width=208, height=884, x_axis_type=None, y_axis_type=None,
            output_backend="svg", toolbar_location=None,
            min_border_left=8, min_border_right=8, min_border_top=205, min_border_bottom=155,
            background_fill_color=PANEL, border_fill_color=PANEL,
            outline_line_color=FRAME, outline_line_width=1)
pc.title.text = theta_title
pc.title.align = "center"
pc.title.text_font = FONT
pc.title.text_font_size = "26px"
pc.title.text_font_style = "italic"
pc.title.text_color = "black"
pc.title.standoff = 22

cb = ColorBar(color_mapper=mapper, ticker=FixedTicker(ticks=theta_ticks),
              major_label_overrides=dict(zip(theta_ticks, theta_labels)),
              location="top_left", orientation="vertical", width=52, height=482,
              padding=22, margin=0, label_standoff=10,
              major_label_text_font=FONT, major_label_text_font_size="31px",
              major_label_text_font_style="bold", major_label_text_color="black",
              major_tick_in=52, major_tick_out=0, major_tick_line_color="black",
              minor_tick_line_color=None, bar_line_color="black",
              border_line_color=None, background_fill_color=None)
pc.add_layout(cb, "center")

inner = row(column(py), column(p, pl), column(pc), styles={"background-color": PANEL})
white = column(Spacer(height=14), row(Spacer(width=13), inner, Spacer(width=8)), Spacer(height=13),
               styles={"background-color": "white"})
layout = column(Spacer(height=9), row(Spacer(width=9), white), styles={"background-color": OUTER})
open("out.html", "w").write(file_html(layout, INLINE))
